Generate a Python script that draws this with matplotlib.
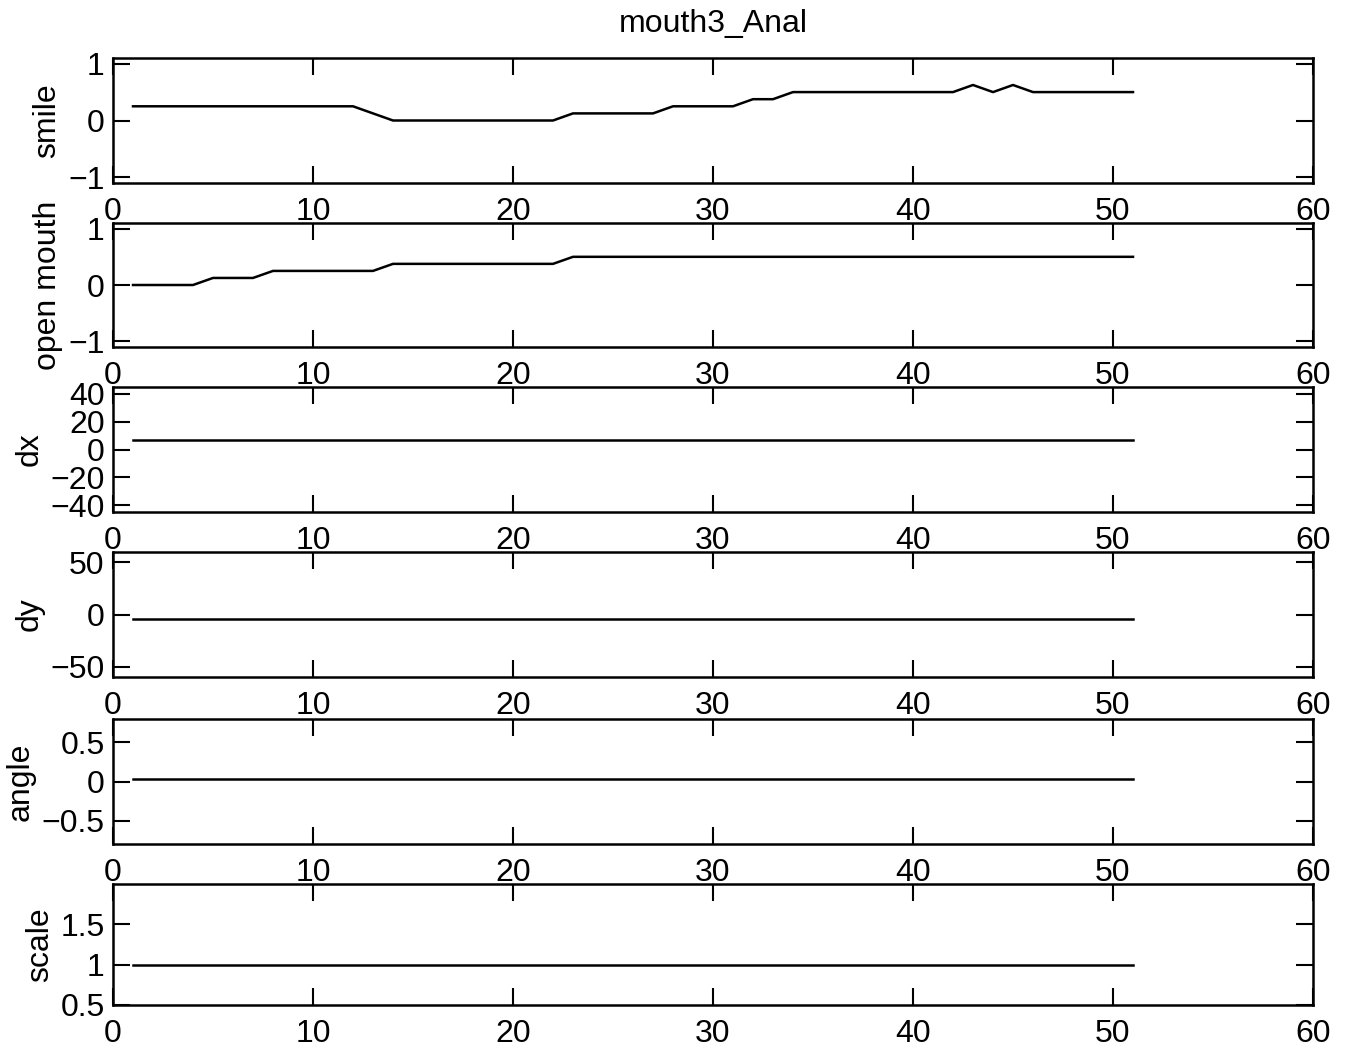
import numpy as np
import matplotlib
matplotlib.use('Agg')
import matplotlib.pyplot as plt

plt.rcParams['font.family'] = ['Liberation Sans', 'DejaVu Sans']

# ── Data ─────────────────────────────────────────────────────────────────────
frames = np.arange(1, 52)

smile = ([0.25] * 12 + [0.125] + [0.0] * 9 + [0.125] * 5 + [0.25] * 4
         + [0.375] * 2 + [0.5] * 9 + [0.625, 0.5, 0.625] + [0.5] * 6)
open_mouth = [0.0] * 4 + [0.125] * 3 + [0.25] * 6 + [0.375] * 9 + [0.5] * 29
dx = [7.2] * 51
dy = [-4.0] * 51
angle = [0.03] * 51
scale = [1.0] * 51

labels = ['smile', 'open mouth', 'dx', 'dy', 'angle', 'scale']
series = [smile, open_mouth, dx, dy, angle, scale]
ylims = [(-1.1, 1.1), (-1.1, 1.1), (-45, 45), (-60, 60), (-0.8, 0.8), (0.5, 2.0)]
yticks = [[-1, 0, 1], [-1, 0, 1], [-40, -20, 0, 20, 40], [-50, 0, 50],
          [-0.5, 0, 0.5], [0.5, 1, 1.5]]
yticklabels = [['\u22121', '0', '1'], ['\u22121', '0', '1'],
               ['\u221240', '\u221220', '0', '20', '40'], ['\u221250', '0', '50'],
               ['\u22120.5', '0', '0.5'], ['0.5', '1', '1.5']]
xticks = [0, 10, 20, 30, 40, 50, 60]

# ── Layout (pixel boxes of each panel: top, bottom) ─────────────────────────
W, H = 1345, 1053
boxes = [(58, 183), (223, 347), (387, 512), (552, 677), (719, 844), (884, 1005)]
left, right = 113, 1313

fig = plt.figure(figsize=(W / 100, H / 100), dpi=100)
fs = 23

for i, (lab, y) in enumerate(zip(labels, series)):
    top, bot = boxes[i]
    ax = fig.add_axes([left / W, 1 - bot / H, (right - left) / W, (bot - top) / H])
    ax.plot(frames, y, color='black', lw=1.8)
    ax.set_xlim(0, 60)
    ax.set_ylim(*ylims[i])
    ax.set_xticks(xticks)
    ax.set_yticks(yticks[i])
    ax.set_yticklabels(yticklabels[i])
    ax.tick_params(direction='in', length=12, width=1.5, labelsize=fs,
                   top=True, right=True)
    ax.tick_params(axis='x', pad=10)
    ax.tick_params(axis='y', pad=6)
    ax.set_ylabel(lab, fontsize=fs, labelpad=4)
    for sp in ax.spines.values():
        sp.set_linewidth(1.8)
    if i == 0:
        ax.set_title('mouth3_Anal', fontsize=fs, pad=19)

fig.savefig('out.png', dpi=100)
